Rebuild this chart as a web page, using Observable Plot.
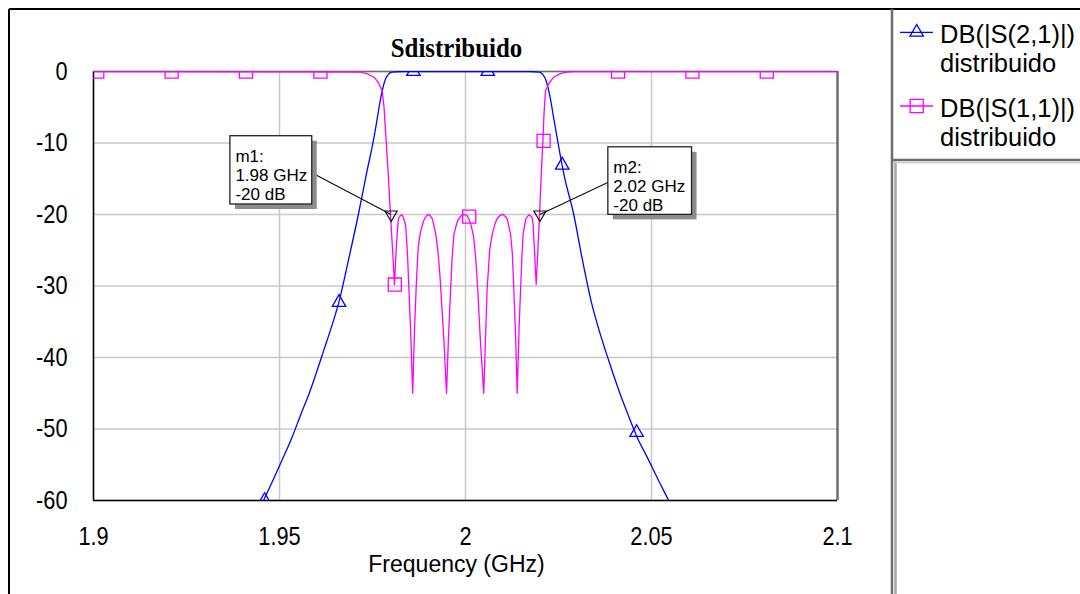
<!DOCTYPE html>
<html><head><meta charset="utf-8">
<script src="https://cdn.jsdelivr.net/npm/d3@7"></script>
<script src="https://cdn.jsdelivr.net/npm/@observablehq/plot@0.6"></script>
<style>
html,body{margin:0;padding:0;background:#fff;}
#chart{width:1080px;height:594px;overflow:hidden;position:relative;}
</style></head><body><div id="chart"></div>
<script>
// ---- text / ticks ----
const chartTitle = "Sdistribuido";
const xLabel = "Frequency (GHz)";
const xTicks = [1.9, 1.95, 2, 2.05, 2.1];
const yTicks = [0, -10, -20, -30, -40, -50, -60];
const seriesLine1 = ["DB(|S(2,1)|)", "DB(|S(1,1)|)"];
const seriesLine2 = ["distribuido", "distribuido"];
const seriesColors = ["#0000ff", "#ff00ff"];

// ---- S21 (blue) ----
const s21Freq = [1.9400,1.9457,1.9484,1.9510,1.9535,1.9557,1.9580,1.9600,1.9619,1.9638,1.9659,1.9687,1.9712,1.9735,1.9753,1.9763,1.9770,1.9777,1.9784,1.9792,1.9802,1.9830,2.0000,2.0170,2.0198,2.0208,2.0216,2.0223,2.0230,2.0237,2.0247,2.0265,2.0291,2.0313,2.0339,2.0358,2.0376,2.0395,2.0415,2.0437,2.0460,2.0489,2.0517,2.0546,2.0600];
const s21dB   = [-66,-60,-57,-54,-51,-48,-45,-42,-39,-36,-32.4,-26,-20,-14,-9.5,-6.5,-4.3,-2.5,-1.2,-0.45,-0.1,0,0,0,-0.1,-0.45,-1.2,-2.5,-4.3,-6.5,-9.5,-14.5,-20,-26,-32.4,-36,-39,-42,-45,-48,-51,-54,-57,-60,-66];

// ---- S11 (magenta) ----
const s11Freq = [1.900,1.9718,1.9735,1.9754,1.9766,1.9776,1.9781,1.9785,1.9792,1.9798,1.9804,1.9809,
  1.9814,1.9819,1.9821,1.9826,1.9830,1.9834,1.9839,1.9844,1.9848,1.9853,1.9858,
  1.9863,1.9868,1.9873,1.9879,1.9888,1.9895,1.9900,1.9905,1.9911,1.9920,1.9926,1.9931,1.9936,1.9942,1.9949,
  1.9954,1.9960,1.9964,1.9969,1.9979,1.9990,1.9997,2.0004,2.0009,2.0016,2.0022,2.0028,2.0033,2.0040,2.0049,
  2.0054,2.0058,2.0065,2.0072,2.0080,2.0085,2.0093,2.0101,2.0108,2.0112,2.0121,2.0126,2.0130,2.0135,2.0139,
  2.0144,2.0148,2.0152,2.0155,2.0162,2.0170,2.0175,2.0179,2.0182,2.0185,2.0190,
  2.0195,2.0199,2.0204,2.0208,2.0211,2.0215,2.0225,2.0237,2.0255,2.0272,2.0290,2.1000];
const s11dB = [0,-0.1,-0.3,-0.8,-1.6,-2.7,-5,-8.3,-14,-19.7,-25,-29.8,
  -24.5,-20.9,-20.4,-20.1,-20.05,-20.6,-21.5,-25.5,-30.6,-37,-45,
  -36,-29.5,-24.5,-22.4,-20.8,-20.2,-20,-20.15,-20.6,-22.7,-25.2,-28.3,-32.5,-37.6,-45,
  -37.5,-30.6,-26,-22.7,-20.8,-20.1,-20,-20.15,-20.6,-21.7,-23.2,-26.5,-30.6,-37.6,-45,
  -37,-30.6,-25,-22.7,-21.2,-20.6,-20.1,-20,-20.3,-20.6,-22.7,-25.5,-30.6,-37.5,-45,
  -36,-30.6,-25.5,-22.7,-20.6,-20.05,-20.2,-20.4,-21.5,-24.6,-29.8,
  -24.5,-20.1,-14,-9.7,-6,-2.7,-1.6,-0.8,-0.3,-0.1,0,0];

// ---- curve symbols ----
const s21SymFreq = [1.946,1.966,1.986,2.006,2.026,2.046];
const s21SymdB   = [-60,-32.3,0,0,-13.1,-50.5];
const s11SymFreq = [1.901,1.921,1.941,1.961,1.981,2.001,2.021,2.041,2.061,2.081];
const s11SymdB   = [0,0,0,0,-29.8,-20.3,-9.7,0,0,0];

// ---- markers ----
const markerNames = ["m1", "m2"];
const markerFreq = [1.98, 2.02];
const markerdB = [-20, -20];
const markerUnit = ["GHz", "dB"];
const boxX1 = [1.9368, 2.0384];
const boxX2 = [1.9588, 2.0609];
const boxY1 = [-9.05, -10.6];
const boxY2 = [-18.6, -20.05];
const leaderFreq = [1.9588, 2.0384];
const leaderdB = [-14.2, -15.5];

const s21 = s21Freq.map((f, i) => ({f, db: s21dB[i]}));
const s11 = s11Freq.map((f, i) => ({f, db: s11dB[i]}));
const s21Sym = s21SymFreq.map((f, i) => ({f, db: s21SymdB[i]}));
const s11Sym = s11SymFreq.map((f, i) => ({f, db: s11SymdB[i]}));
const markers = markerNames.map((n, i) => ({
  n, f: markerFreq[i], db: markerdB[i],
  x1: boxX1[i], x2: boxX2[i], y1: boxY1[i], y2: boxY2[i],
  lf: leaderFreq[i], ld: leaderdB[i],
  label: `${n}:\n${markerFreq[i]} ${markerUnit[0]}\n${markerdB[i]} ${markerUnit[1]}`
}));

const sans = "'Liberation Sans', Arial, sans-serif";
const triR = 5, sqR = 7.4;

const svg = Plot.plot({
  width: 1080, height: 594,
  marginTop: 71, marginRight: 243, marginBottom: 94, marginLeft: 93,
  style: {fontFamily: sans, fontSize: "25px", background: "white", color: "black", overflow: "visible"},
  x: {domain: [1.9, 2.1], ticks: xTicks, tickSize: 0, tickPadding: 27, tickFormat: d => String(d), label: null},
  y: {domain: [-60, 0], ticks: yTicks, tickSize: 0, tickPadding: 26, tickFormat: d => String(d), label: null},
  marks: [
    Plot.gridX(xTicks, {stroke: "#c8c8c8", strokeOpacity: 1, strokeWidth: 1.5}),
    Plot.gridY(yTicks, {stroke: "#c8c8c8", strokeOpacity: 1, strokeWidth: 1.5}),
    Plot.ruleX([2.1], {stroke: "#6e6e6e", strokeWidth: 2.5}),
    Plot.ruleY([0], {stroke: "#6e6e6e", strokeWidth: 1.5}),
    Plot.ruleX([1.9], {stroke: "black", strokeWidth: 1.5}),
    Plot.ruleY([-60], {stroke: "black", strokeWidth: 1.5}),
    Plot.line(s21, {x: "f", y: "db", stroke: seriesColors[0], strokeWidth: 1.3, curve: "monotone-x", clip: true}),
    Plot.line(s11, {x: "f", y: "db", stroke: seriesColors[1], strokeWidth: 1.3, clip: true}),
    Plot.dot(s21Sym, {x: "f", y: "db", symbol: "triangle", r: triR, stroke: seriesColors[0], fill: "none", strokeWidth: 1.3, clip: true}),
    Plot.dot(s11Sym, {x: "f", y: "db", symbol: "square", r: sqR, stroke: seriesColors[1], fill: "none", strokeWidth: 1.3, clip: true}),
    Plot.link(markers, {x1: "lf", y1: "ld", x2: "f", y2: "db", stroke: "#111", strokeWidth: 1.2}),
    Plot.dot(markers, {x: "f", y: "db", symbol: "triangle", rotate: 180, r: 4.5, stroke: "#111", fill: "none", strokeWidth: 1.2}),
    Plot.rect(markers, {x1: "x1", x2: "x2", y1: "y1", y2: "y2", fill: "#8c8c8c", dx: 5, dy: 5}),
    Plot.rect(markers, {x1: "x1", x2: "x2", y1: "y1", y2: "y2", fill: "white", stroke: "#222", strokeWidth: 1.3}),
    Plot.text(markers, {x: "x1", y: "y1", text: "label", textAnchor: "start", lineAnchor: "top", dx: 5, dy: 12, fontSize: 17, lineHeight: 1.13, fill: "black"}),
    Plot.text([chartTitle], {frameAnchor: "top", lineAnchor: "bottom", dy: -15, dx: -9, fontSize: 28, fontWeight: "bold", fontFamily: "'Liberation Serif', 'Times New Roman', serif", fill: "black"}),
    Plot.text([xLabel], {frameAnchor: "bottom", lineAnchor: "bottom", dy: 71, dx: -9, fontSize: 23, fill: "black"})
  ]
});

document.getElementById("chart").appendChild(svg);
const root = d3.select(svg);

// outer frame and legend panel
const frame = root.append("g");
frame.append("line").attr("x1", 9).attr("x2", 1080).attr("y1", 9).attr("y2", 9).attr("stroke", "black").attr("stroke-width", 2);
frame.append("line").attr("x1", 9).attr("x2", 9).attr("y1", 9).attr("y2", 594).attr("stroke", "black").attr("stroke-width", 2);
frame.append("line").attr("x1", 892).attr("x2", 892).attr("y1", 9).attr("y2", 594).attr("stroke", "#6e6e6e").attr("stroke-width", 2.5);
frame.append("line").attr("x1", 893).attr("x2", 1080).attr("y1", 160).attr("y2", 160).attr("stroke", "#6e6e6e").attr("stroke-width", 2.5);
frame.append("line").attr("x1", 895.5).attr("x2", 895.5).attr("y1", 161).attr("y2", 594).attr("stroke", "#a8a8a8").attr("stroke-width", 2.5);
frame.append("line").attr("x1", 895).attr("x2", 1080).attr("y1", 162.5).attr("y2", 162.5).attr("stroke", "#d0d0d0").attr("stroke-width", 2);

// legend
const legendSymbols = [d3.symbolTriangle, d3.symbolSquare];
const legendSizes = [triR * triR * Math.PI, sqR * sqR * Math.PI];
const legendY = [32.3, 106];
const leg = root.append("g").attr("text-anchor", "start");
seriesLine1.forEach((t, i) => {
  const g = leg.append("g");
  g.append("line").attr("x1", 900).attr("x2", 933).attr("y1", legendY[i]).attr("y2", legendY[i]).attr("stroke", seriesColors[i]).attr("stroke-width", 1.3);
  g.append("path").attr("d", d3.symbol(legendSymbols[i], legendSizes[i])()).attr("transform", `translate(916.7,${legendY[i]})`).attr("fill", "none").attr("stroke", seriesColors[i]).attr("stroke-width", 1.3);
  g.append("text").attr("text-anchor", "start").attr("x", 940).attr("y", legendY[i] + 11).attr("font-size", 25.5).attr("fill", "black").text(t);
  g.append("text").attr("text-anchor", "start").attr("x", 940).attr("y", legendY[i] + 39.5).attr("font-size", 25.5).attr("fill", "black").text(seriesLine2[i]);
});

// horizontal squeeze to mimic the reference's condensed lettering
function squeeze(sel, ratio) {
  sel.each(function () {
    const w = this.getComputedTextLength();
    if (w > 0) { this.setAttribute("textLength", w * ratio); this.setAttribute("lengthAdjust", "spacingAndGlyphs"); }
  });
}
squeeze(root.selectAll('g[aria-label="x-axis tick label"] text, g[aria-label="y-axis tick label"] text'), 0.87);
squeeze(root.selectAll("text").filter(function () { return this.textContent === chartTitle; }), 0.89);
</script></body></html>
